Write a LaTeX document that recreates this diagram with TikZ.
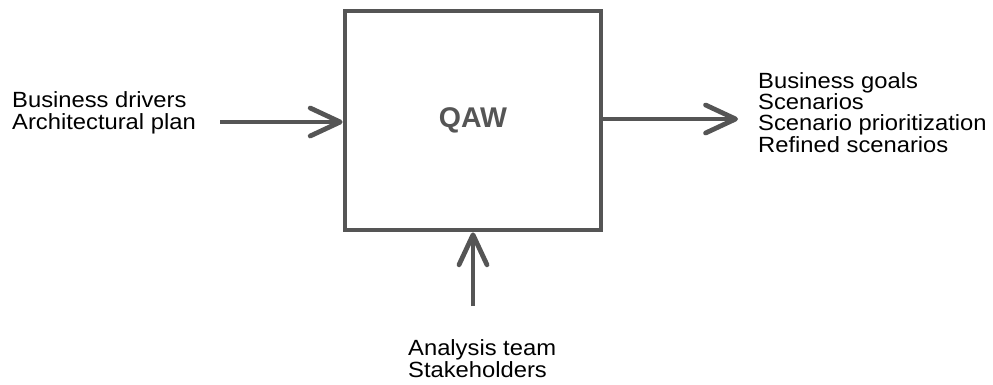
\documentclass[tikz,border=0pt]{standalone}
\usepackage{fontspec}
\setmainfont{Liberation Sans}[FakeStretch=1.08]
\newfontfamily\boxfont{Liberation Sans}
\usetikzlibrary{arrows.meta}
\definecolor{linegray}{HTML}{555555}
\begin{document}
\begin{tikzpicture}[x=1pt,y=-1pt,
    txt/.style={align=left,inner sep=0pt,anchor=base west,
      font=\fontsize{22pt}{21.3pt}\selectfont},
    arr/.style={draw=linegray,line width=4.8pt,
      -{Straight Barb[length=30pt,width=28pt,line cap=round,line join=round]}}]
\useasboundingbox (0,0) rectangle (993,384);
\node[draw=linegray,line width=4.8pt,minimum width=256pt,minimum height=219pt,
  font=\boxfont\bfseries\fontsize{28.5pt}{28.5pt}\selectfont,text=linegray] (qaw) at (473,120.5) {QAW};
% text nodes sit on the baseline of their last line
\node[txt] (ins) at (12,129) {Business drivers\\Architectural plan};
\node[txt] (outs) at (758,152) {Business goals\\Scenarios\\Scenario prioritization\\Refined scenarios};
\node[txt] (res) at (408,377) {Analysis team\\Stakeholders};
\coordinate (lin) at (220,122);
\coordinate (rout) at (738,119);
\coordinate (bin) at (473,306);
\draw[arr] (lin) -- (qaw.west |- lin);
\draw[arr] (qaw.east |- rout) -- (rout);
\draw[arr] (bin) -- (qaw.south);
\end{tikzpicture}
\end{document}
